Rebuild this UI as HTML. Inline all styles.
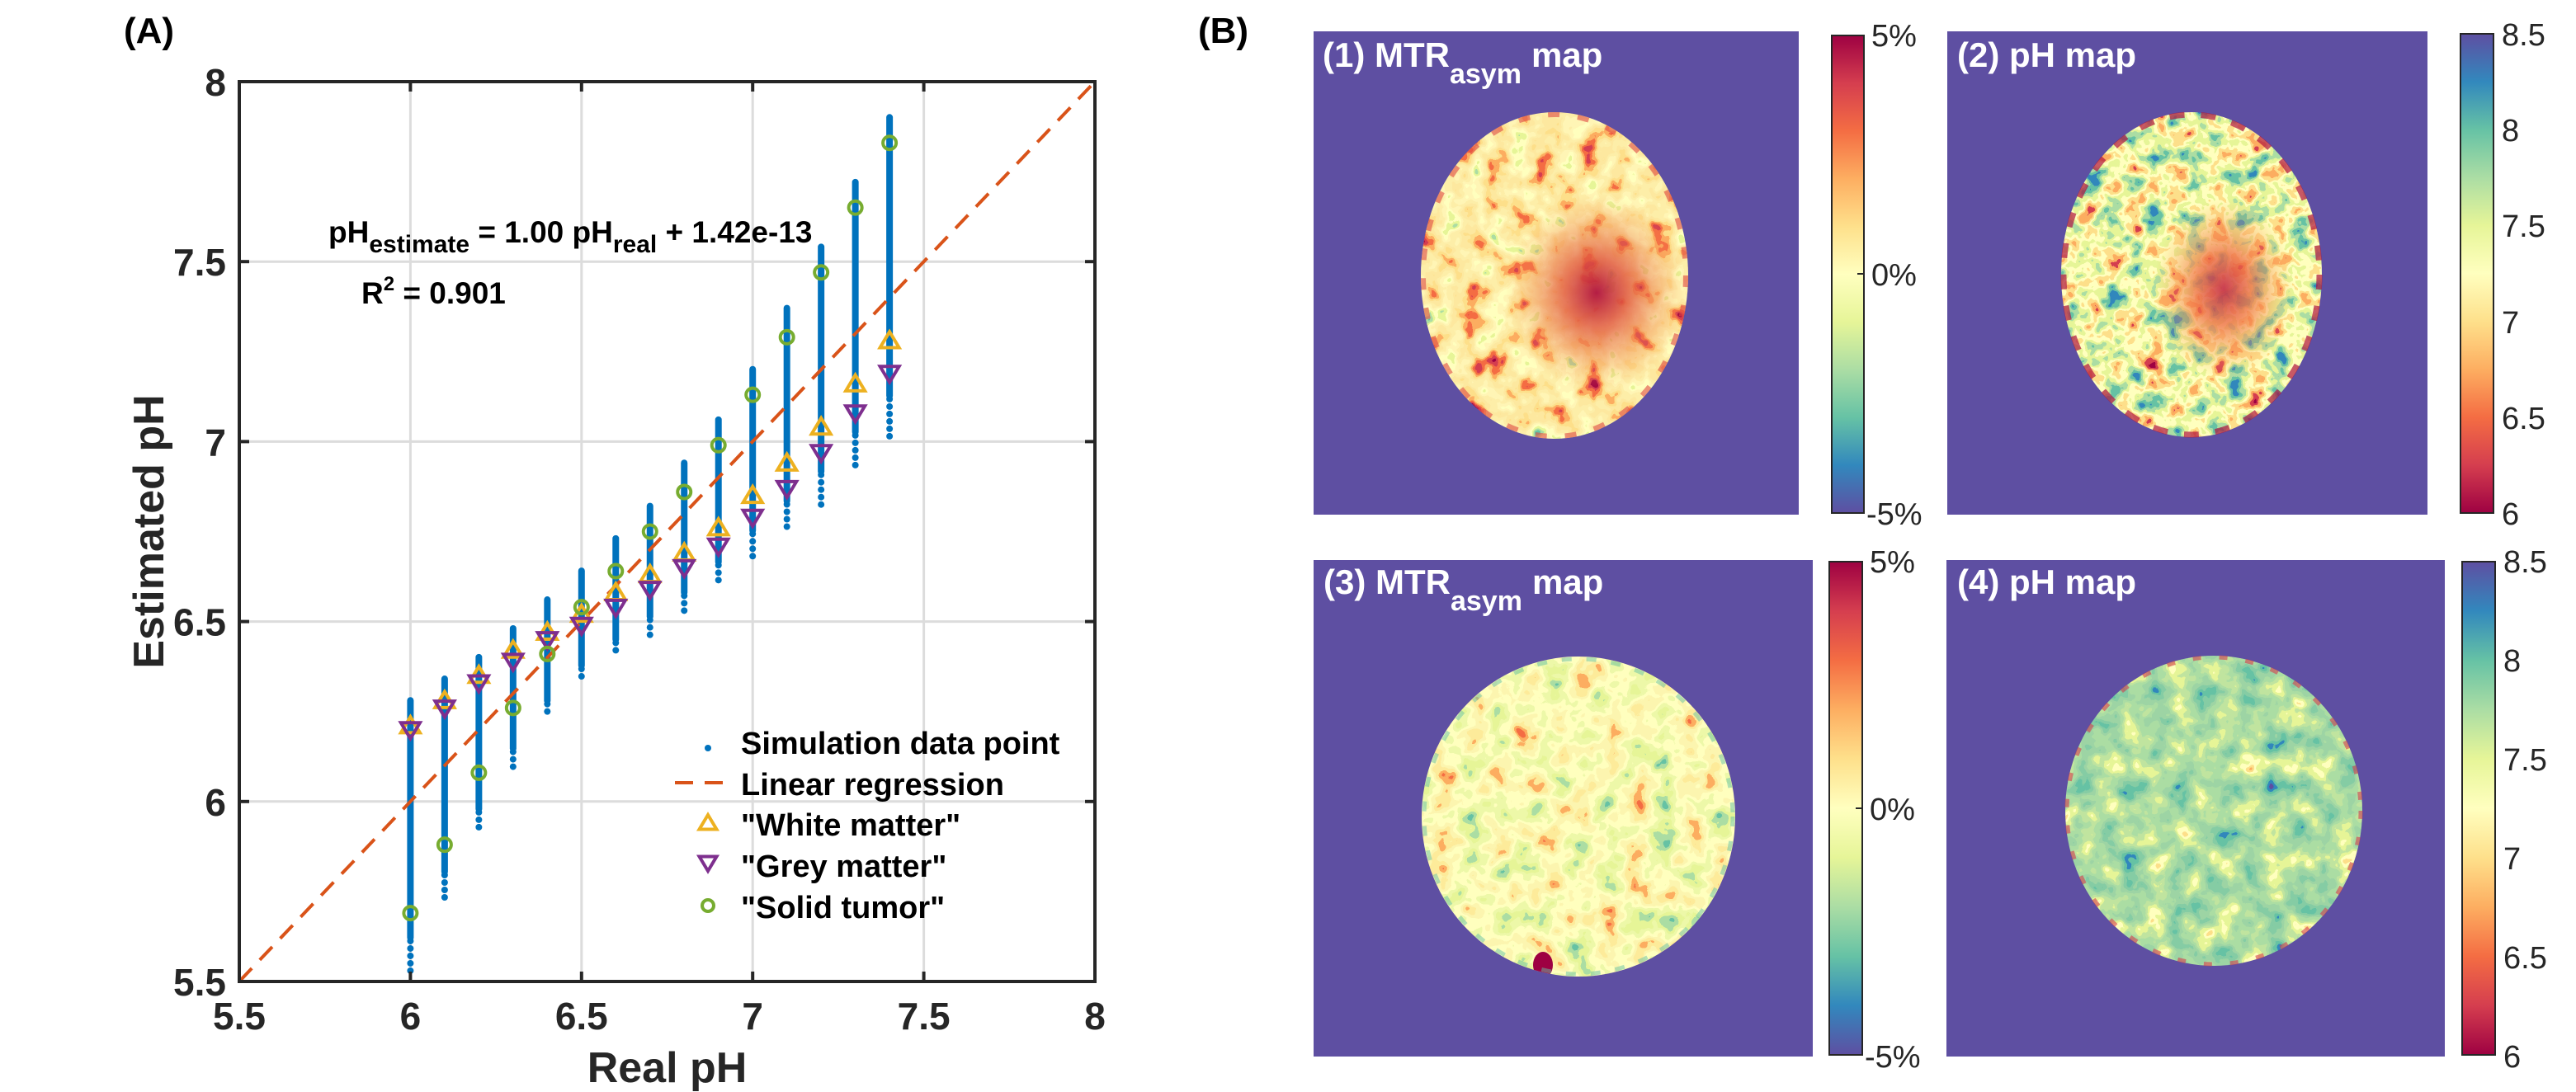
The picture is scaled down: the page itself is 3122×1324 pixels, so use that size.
<!DOCTYPE html>
<html><head><meta charset="utf-8">
<style>
html,body{margin:0;padding:0;background:#fff;}
svg{display:block;}
text{font-family:"Liberation Sans",sans-serif;}
</style></head>
<body>
<svg id="fig" width="3122" height="1324" viewBox="0 0 3122 1324" xmlns="http://www.w3.org/2000/svg">
<defs>
  <linearGradient id="cbMTR" x1="0" y1="0" x2="0" y2="1">
    <stop offset="0" stop-color="#9E0142"/><stop offset="0.1" stop-color="#D53E4F"/><stop offset="0.2" stop-color="#F46D43"/><stop offset="0.3" stop-color="#FDAE61"/><stop offset="0.4" stop-color="#FEE08B"/><stop offset="0.5" stop-color="#FFFFBF"/><stop offset="0.6" stop-color="#E6F598"/><stop offset="0.7" stop-color="#ABDDA4"/><stop offset="0.8" stop-color="#66C2A5"/><stop offset="0.9" stop-color="#3288BD"/><stop offset="1" stop-color="#5E4FA2"/>
  </linearGradient>
  <linearGradient id="cbPH" x1="0" y1="1" x2="0" y2="0">
    <stop offset="0" stop-color="#9E0142"/><stop offset="0.1" stop-color="#D53E4F"/><stop offset="0.2" stop-color="#F46D43"/><stop offset="0.3" stop-color="#FDAE61"/><stop offset="0.4" stop-color="#FEE08B"/><stop offset="0.5" stop-color="#FFFFBF"/><stop offset="0.6" stop-color="#E6F598"/><stop offset="0.7" stop-color="#ABDDA4"/><stop offset="0.8" stop-color="#66C2A5"/><stop offset="0.9" stop-color="#3288BD"/><stop offset="1" stop-color="#5E4FA2"/>
  </linearGradient>
  <radialGradient id="tumor1"><stop offset="0" stop-color="#B0123F" stop-opacity="0.95"/><stop offset="0.35" stop-color="#E0553F" stop-opacity="0.8"/><stop offset="1" stop-color="#F99A55" stop-opacity="0"/></radialGradient>
  <radialGradient id="tumor2"><stop offset="0" stop-color="#C42A45" stop-opacity="0.9"/><stop offset="0.4" stop-color="#EE6A44" stop-opacity="0.75"/><stop offset="1" stop-color="#FDAE61" stop-opacity="0"/></radialGradient>
  <clipPath id="cp1"><ellipse cx="1884" cy="334" rx="162" ry="198"/></clipPath>
  <clipPath id="cp2"><ellipse cx="2656" cy="333" rx="158" ry="197"/></clipPath>
  <clipPath id="cp3"><ellipse cx="1913" cy="990" rx="190" ry="194"/></clipPath>
  <clipPath id="cp4"><ellipse cx="2683" cy="983" rx="180" ry="188"/></clipPath>
</defs>

<text x="150" y="52" font-size="44" font-weight="bold" fill="#000">(A)</text>
<text x="1452" y="52" font-size="44" font-weight="bold" fill="#000">(B)</text>

<g id="chart"></g>

<g>
  <rect x="1592" y="38" width="588" height="586" fill="#5E4FA2"/>
  <g clip-path="url(#cp1)"><rect id="tex1" x="1715" y="130" width="340" height="410"/>
    <ellipse cx="1935" cy="355" rx="110" ry="120" fill="url(#tumor1)"/></g>
  <ellipse cx="1884" cy="334" rx="159" ry="195" fill="none" stroke="#E04A45" stroke-width="6" stroke-dasharray="14 22" opacity="0.6"/>
  <text x="1603" y="81" font-size="42" font-weight="bold" fill="#fff" font-family="Liberation Sans Narrow, Liberation Sans, sans-serif">(1) MTR<tspan font-size="34" dy="20">asym</tspan><tspan dy="-20" dx="12">map</tspan></text>
</g>
<g>
  <rect x="2360" y="38" width="582" height="586" fill="#5E4FA2"/>
  <g clip-path="url(#cp2)"><rect id="tex2" x="2495" y="130" width="325" height="410"/>
    <ellipse cx="2695" cy="350" rx="85" ry="110" fill="url(#tumor2)"/></g>
  <ellipse cx="2656" cy="333" rx="155" ry="194" fill="none" stroke="#B0123F" stroke-width="7" stroke-dasharray="18 20" opacity="0.7"/>
  <text x="2372" y="81" font-size="42" font-weight="bold" fill="#fff" font-family="Liberation Sans Narrow, Liberation Sans, sans-serif">(2) pH map</text>
</g>
<g>
  <rect x="1592" y="679" width="605" height="602" fill="#5E4FA2"/>
  <g clip-path="url(#cp3)"><rect id="tex3" x="1720" y="790" width="390" height="400"/>
    <ellipse cx="1870" cy="1170" rx="12" ry="16" fill="#9E0142"/></g>
  <ellipse cx="1913" cy="990" rx="187" ry="191" fill="none" stroke="#66C2A5" stroke-width="5" stroke-dasharray="12 18" opacity="0.5"/>
  <text x="1604" y="720" font-size="42" font-weight="bold" fill="#fff" font-family="Liberation Sans Narrow, Liberation Sans, sans-serif">(3) MTR<tspan font-size="34" dy="20">asym</tspan><tspan dy="-20" dx="12">map</tspan></text>
</g>
<g>
  <rect x="2359" y="679" width="604" height="602" fill="#5E4FA2"/>
  <g clip-path="url(#cp4)"><rect id="tex4" x="2500" y="790" width="370" height="390"/></g>
  <ellipse cx="2683" cy="983" rx="178" ry="186" fill="none" stroke="#D53E4F" stroke-width="5" stroke-dasharray="10 22" opacity="0.6"/>
  <text x="2372" y="720" font-size="42" font-weight="bold" fill="#fff" font-family="Liberation Sans Narrow, Liberation Sans, sans-serif">(4) pH map</text>
</g>

<g font-size="38" fill="#262626" font-family="Liberation Sans Narrow, Liberation Sans, sans-serif">
  <rect x="2220" y="43" width="39" height="579" fill="url(#cbMTR)" stroke="#262626" stroke-width="2"/>
  <line x1="2251" y1="332" x2="2259" y2="332" stroke="#262626" stroke-width="2"/>
  <text x="2268" y="56">5%</text><text x="2268" y="346">0%</text><text x="2262" y="636">-5%</text>
</g>
<g font-size="38" fill="#262626" font-family="Liberation Sans Narrow, Liberation Sans, sans-serif">
  <rect x="2982" y="41" width="40" height="581" fill="url(#cbPH)" stroke="#262626" stroke-width="2"/>
  <text x="3032" y="55">8.5</text><text x="3032" y="171">8</text><text x="3032" y="287">7.5</text><text x="3032" y="404">7</text><text x="3032" y="520">6.5</text><text x="3032" y="636">6</text>
</g>
<g font-size="38" fill="#262626" font-family="Liberation Sans Narrow, Liberation Sans, sans-serif">
  <rect x="2217" y="681" width="40" height="598" fill="url(#cbMTR)" stroke="#262626" stroke-width="2"/>
  <line x1="2249" y1="980" x2="2257" y2="980" stroke="#262626" stroke-width="2"/>
  <text x="2266" y="694">5%</text><text x="2266" y="994">0%</text><text x="2260" y="1294">-5%</text>
</g>
<g font-size="38" fill="#262626" font-family="Liberation Sans Narrow, Liberation Sans, sans-serif">
  <rect x="2984" y="681" width="40" height="598" fill="url(#cbPH)" stroke="#262626" stroke-width="2"/>
  <text x="3034" y="694">8.5</text><text x="3034" y="814">8</text><text x="3034" y="934">7.5</text><text x="3034" y="1054">7</text><text x="3034" y="1174">6.5</text><text x="3034" y="1294">6</text>
</g>
</svg>

<script>
const realPH   = [6.0,6.1,6.2,6.3,6.4,6.5,6.6,6.7,6.8,6.9,7.0,7.1,7.2,7.3,7.4];
const simMax   = [6.29,6.35,6.41,6.49,6.57,6.65,6.74,6.83,6.95,7.07,7.21,7.38,7.55,7.73,7.91];
const simMin   = [5.52,5.72,5.91,6.09,6.23,6.33,6.40,6.46,6.52,6.60,6.68,6.75,6.82,6.92,7.01];
const whiteMatter = [6.21,6.28,6.35,6.42,6.47,6.52,6.58,6.63,6.69,6.76,6.85,6.94,7.04,7.16,7.28];
const greyMatter  = [6.20,6.26,6.33,6.39,6.45,6.49,6.54,6.59,6.65,6.71,6.79,6.87,6.97,7.08,7.19];
const solidTumor  = [5.69,5.88,6.08,6.26,6.41,6.54,6.64,6.75,6.86,6.99,7.13,7.29,7.47,7.65,7.83];
const xTicks = [5.5,6,6.5,7,7.5,8];
const yTicks = [5.5,6,6.5,7,7.5,8];
const xTickLabels = ["5.5","6","6.5","7","7.5","8"];
const yTickLabels = ["5.5","6","6.5","7","7.5","8"];
const regSlope = 1.00, regIntercept = 0;

const NS = "http://www.w3.org/2000/svg";
const L = 290, R = 1327, T = 99, B = 1190;
const xMin = 5.5, xMax = 8, yMin = 5.5, yMax = 8;
const sx = v => L + (v - xMin) / (xMax - xMin) * (R - L);
const sy = v => B - (v - yMin) / (yMax - yMin) * (B - T);
const chart = document.getElementById('chart');
function mk(tag, attrs, parent) {
  const e = document.createElementNS(NS, tag);
  for (const k in attrs) e.setAttribute(k, attrs[k]);
  (parent || chart).appendChild(e);
  return e;
}
let bg = mk('rect', {x:L, y:T, width:R-L, height:B-T, fill:'#fff'});


xTicks.forEach(v => {
  const g = mk('line', {x1:sx(v), x2:sx(v), y1:T, y2:B, stroke:'#DCDCDC', 'stroke-width':3});
  
  
});
yTicks.forEach(v => {
  const g = mk('line', {x1:L, x2:R, y1:sy(v), y2:sy(v), stroke:'#DCDCDC', 'stroke-width':3});
  
  
});
const simG = mk('g', {fill:'#0072BD'});


realPH.forEach((x, i) => {
  const top = sy(simMax[i]), bot = sy(simMin[i]);
  const bar = mk('rect', {x:sx(x)-4, y:top, width:8, height:(bot-top)*0.88, rx:4}, simG);
  
  
  for (let y = top + (bot-top)*0.88; y <= bot; y += 9) {
    const d = mk('circle', {cx:sx(x), cy:y, r:4}, simG);
    
    
  }
});
const rl = mk('line', {x1:sx(xMin), y1:sy(regSlope*xMin+regIntercept), x2:sx(xMax), y2:sy(regSlope*xMax+regIntercept), stroke:'#D95319', 'stroke-width':4, 'stroke-dasharray':'22 14'});


function triUp(cx, cy, s) { return `${cx},${cy-s} ${cx-s*1.05},${cy+s*0.75} ${cx+s*1.05},${cy+s*0.75}`; }
function triDn(cx, cy, s) { return `${cx},${cy+s} ${cx-s*1.05},${cy-s*0.75} ${cx+s*1.05},${cy-s*0.75}`; }
realPH.forEach((x, i) => {
  const w = mk('polygon', {points:triUp(sx(x), sy(whiteMatter[i]), 11), fill:'none', stroke:'#EDB120', 'stroke-width':4});
  
  
  const g = mk('polygon', {points:triDn(sx(x), sy(greyMatter[i]), 11), fill:'none', stroke:'#7E2F8E', 'stroke-width':4});
  
  
  const t = mk('circle', {cx:sx(x), cy:sy(solidTumor[i]), r:8, fill:'none', stroke:'#77AC30', 'stroke-width':4});
  
  
});
const box = mk('rect', {x:L, y:T, width:R-L, height:B-T, fill:'none', stroke:'#262626', 'stroke-width':4});


xTicks.forEach((v, i) => {
  const t1 = mk('line', {x1:sx(v), x2:sx(v), y1:B, y2:B-12, stroke:'#262626', 'stroke-width':4});
  
  
  const t2 = mk('line', {x1:sx(v), x2:sx(v), y1:T, y2:T+12, stroke:'#262626', 'stroke-width':4});
  
  
  const lb = mk('text', {x:sx(v), y:B+58, 'font-size':46, 'font-weight':'bold', 'text-anchor':'middle', fill:'#262626'});
  lb.textContent = xTickLabels[i];
  
  
});
yTicks.forEach((v, i) => {
  const t1 = mk('line', {x1:L, x2:L+12, y1:sy(v), y2:sy(v), stroke:'#262626', 'stroke-width':4});
  
  
  const t2 = mk('line', {x1:R, x2:R-12, y1:sy(v), y2:sy(v), stroke:'#262626', 'stroke-width':4});
  
  
  const lb = mk('text', {x:L-16, y:sy(v)+17, 'font-size':46, 'font-weight':'bold', 'text-anchor':'end', fill:'#262626'});
  lb.textContent = yTickLabels[i];
  
  
});
const xt = mk('text', {x:(L+R)/2, y:1312, 'font-size':52, 'font-weight':'bold', 'text-anchor':'middle', fill:'#262626'});
xt.textContent = 'Real pH';


const yt = mk('text', {x:0, y:0, 'font-size':52, 'font-weight':'bold', 'text-anchor':'middle', fill:'#262626', transform:`translate(198,${(T+B)/2}) rotate(-90)`});
yt.textContent = 'Estimated pH';


const eq = mk('text', {x:398, y:294, 'font-size':37, 'font-weight':'bold', fill:'#000'});
eq.innerHTML = 'pH<tspan font-size="30" dy="12">estimate</tspan><tspan dy="-12"> = 1.00 pH</tspan><tspan font-size="30" dy="12">real</tspan><tspan dy="-12"> + 1.42e-13</tspan>';


const r2 = mk('text', {x:438, y:368, 'font-size':37, 'font-weight':'bold', fill:'#000'});
r2.innerHTML = 'R<tspan font-size="24" dy="-16">2</tspan><tspan dy="16"> = 0.901</tspan>';


const leg = mk('g', {});


const legY = [911, 961, 1010, 1060, 1110];
const legText = ['Simulation data point','Linear regression','"White matter"','"Grey matter"','"Solid tumor"'];
const mx = 858;
mk('circle', {cx:mx, cy:legY[0]-4, r:4, fill:'#0072BD'}, leg);
mk('line', {x1:mx-40, x2:mx+20, y1:legY[1]-12, y2:legY[1]-12, stroke:'#D95319', 'stroke-width':4, 'stroke-dasharray':'22 14'}, leg);
mk('polygon', {points:triUp(mx, legY[2]-12, 10), fill:'none', stroke:'#EDB120', 'stroke-width':4}, leg);
mk('polygon', {points:triDn(mx, legY[3]-14, 10), fill:'none', stroke:'#7E2F8E', 'stroke-width':4}, leg);
mk('circle', {cx:mx, cy:legY[4]-12, r:7, fill:'none', stroke:'#77AC30', 'stroke-width':4}, leg);
legText.forEach((s, i) => {
  const t = mk('text', {x:898, y:legY[i]+3, 'font-size':38, 'font-weight':'bold', fill:'#000'}, leg);
  t.textContent = s;
  
  
});

const defs = document.querySelector('defs');
function hex(c){return [parseInt(c.slice(1,3),16)/255, parseInt(c.slice(3,5),16)/255, parseInt(c.slice(5,7),16)/255];}
function makeFilter(id, colors, freq, seed) {
  const f = document.createElementNS(NS, 'filter');
  f.setAttribute('id', id);
  f.setAttribute('x', '0'); f.setAttribute('y', '0'); f.setAttribute('width', '1'); f.setAttribute('height', '1');
  f.setAttribute('color-interpolation-filters', 'sRGB');
  const rgb = colors.map(hex);
  const tab = k => rgb.map(c => c[k].toFixed(3)).join(' ');
  f.innerHTML = `<feTurbulence type="fractalNoise" baseFrequency="${freq}" numOctaves="3" seed="${seed}" result="n"/>
  <feColorMatrix in="n" type="matrix" values="1 0 0 0 0  1 0 0 0 0  1 0 0 0 0  0 0 0 0 1"/>
  <feComponentTransfer><feFuncR type="discrete" tableValues="${tab(0)}"/><feFuncG type="discrete" tableValues="${tab(1)}"/><feFuncB type="discrete" tableValues="${tab(2)}"/><feFuncA type="table" tableValues="1 1"/></feComponentTransfer>`;
  defs.appendChild(f);
}
makeFilter('f1', ['#3288BD','#66C2A5','#ABDDA4','#E6F598','#FFFFBF','#FFF5B5','#FEEFA8','#FEE8A0','#FEE08B','#FDAE61','#F46D43','#D53E4F','#9E0142','#9E0142'], 0.035, 3);
makeFilter('f2', ['#5E4FA2','#3288BD','#3288BD','#66C2A5','#ABDDA4','#E6F598','#FFFFBF','#FEE08B','#FDAE61','#D53E4F','#9E0142','#9E0142'], 0.04, 7);
makeFilter('f3', ['#3288BD','#66C2A5','#ABDDA4','#E6F598','#EEF8A8','#FFFFBF','#FDF5B0','#FEEB9A','#FDAE61','#F46D43','#D53E4F'], 0.03, 11);
makeFilter('f4', ['#5E4FA2','#3288BD','#66C2A5','#86CCA5','#9DD5A5','#ABDDA4','#C0E5A0','#E6F598','#FFFFBF','#FEE08B','#FDAE61'], 0.035, 5);
['1','2','3','4'].forEach(k => document.getElementById('tex'+k).setAttribute('filter', `url(#f${k})`));
</script>
</body></html>
